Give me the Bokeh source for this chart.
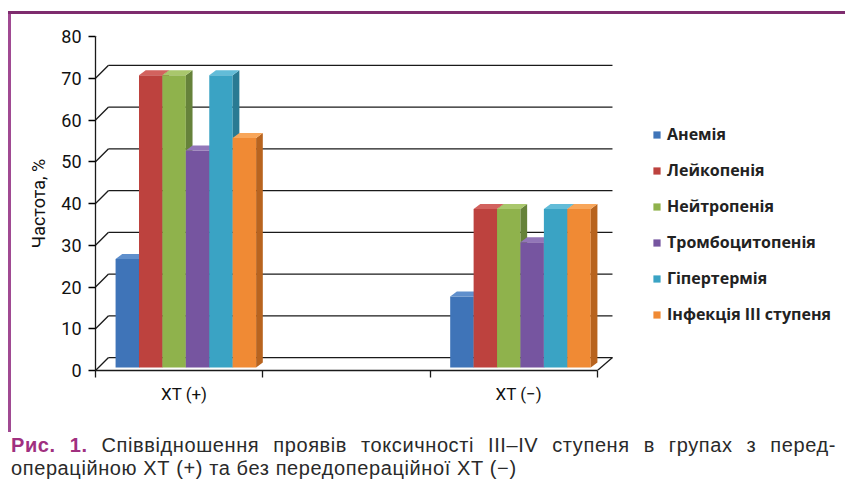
from bokeh.plotting import figure
from bokeh.layouts import column, row
from bokeh.models import (Range1d, FixedTicker, Legend, LegendItem, Div, ColumnDataSource)
from bokeh.embed import file_html
from bokeh.resources import INLINE

# ---- data ----
groups = ["ХТ (+)", "ХТ (−)"]
series = ["Анемія", "Лейкопенія", "Нейтропенія", "Тромбоцитопенія",
          "Гіпертермія", "Інфекція III ступеня"]
xt_plus = [26, 70, 70, 52, 70, 55]
xt_minus = [17, 38, 38, 30, 38, 38]
y_ticks = [0, 10, 20, 30, 40, 50, 60, 70, 80]
y_label = "Частота, %"
caption_head = "Рис. 1."
caption_line1 = "Співвідношення проявів токсичності III–IV ступеня в групах з перед-"
caption_line2 = "операційною ХТ (+) та без передопераційної ХТ (−)"

# ---- style ----
front = ["#3f74b8", "#bd423e", "#8fb24c", "#7655a0", "#3aa3c4", "#f08a34"]
side = ["#2c5488", "#8c2f2c", "#66823a", "#553c77", "#297a93", "#b8641f"]
topc = ["#5f8fcc", "#d2625e", "#a9c76c", "#9276b8", "#62bcd8", "#f8a65a"]

band_start = [0.0, 2.0]     # category bands (middle band empty)
bar_w = 0.14
bar_off = 0.12
base = 0.7                  # bars stand slightly behind the front axis
dx, dy = 0.04, 1.2          # pseudo-3D depth
gdx, gdy = 0.078, 3.1       # back-wall offset of gridlines
ink = "#1a1a1a"

p = figure(width=834, height=418, x_range=Range1d(0, 4.423), y_range=Range1d(0, 80),
           output_backend="svg", toolbar_location=None,
           min_border_left=84, min_border_right=10, min_border_top=22,
           min_border_bottom=62, background_fill_color="white",
           border_fill_color="white", outline_line_color=None)
p.xgrid.grid_line_color = None
p.ygrid.grid_line_color = None

# back-wall gridlines and diagonal connectors
grid_src = ColumnDataSource(dict(
    x0=[gdx] * (len(y_ticks) - 1), x1=[3.09] * (len(y_ticks) - 1),
    y=[t + gdy for t in y_ticks[:-1]]))
p.segment(x0="x0", y0="y", x1="x1", y1="y", source=grid_src, line_color=ink, line_width=1.3)
diag_src = ColumnDataSource(dict(
    x0=[0.0] * len(y_ticks), x1=[gdx] * len(y_ticks),
    y0=y_ticks, y1=[t + gdy for t in y_ticks]))
p.segment(x0="x0", y0="y0", x1="x1", y1="y1", source=diag_src, line_color=ink, line_width=1.3)
p.segment(x0=[3.0], y0=[0], x1=[3.09], y1=[gdy], line_color=ink, line_width=1.3)

# bars
renderers = []
for i, name in enumerate(series):
    vals = [xt_plus[i], xt_minus[i]]
    xc = [b + bar_off + bar_w / 2 + bar_w * i for b in band_start]
    r = p.vbar(x=xc, top=[v + base for v in vals], bottom=base, width=bar_w,
               fill_color=front[i], line_color=None)
    renderers.append(r)
    xs_top, ys_top, xs_side, ys_side = [], [], [], []
    for x, v in zip(xc, vals):
        xl, xr = x - bar_w / 2, x + bar_w / 2
        t = v + base
        xs_top.append([xl, xl + dx, xr + dx, xr]); ys_top.append([t, t + dy, t + dy, t])
        xs_side.append([xr, xr + dx, xr + dx, xr]); ys_side.append([base, base + dy, t + dy, t])
    p.patches(xs=xs_side, ys=ys_side, fill_color=side[i], line_color=None)
    p.patches(xs=xs_top, ys=ys_top, fill_color=topc[i], line_color=None)

# axes
yax = p.yaxis[0]
yax.ticker = FixedTicker(ticks=y_ticks)
yax.axis_label = y_label
yax.axis_label_text_font = "Roboto"
yax.axis_label_text_font_style = "normal"
yax.axis_label_text_font_size = "18px"
yax.axis_label_text_color = "#111111"
yax.axis_label_standoff = 9
yax.major_label_text_font = "Roboto"
yax.major_label_text_font_style = "normal"
yax.major_label_text_font_size = "18px"
yax.major_label_text_color = "#111111"
yax.major_tick_out = 7
yax.major_tick_in = 0
yax.minor_tick_out = 0
yax.minor_tick_in = 0
yax.major_label_standoff = 7
yax.axis_line_color = ink
yax.axis_line_width = 1.3
yax.major_tick_line_width = 1.3

xax = p.xaxis[0]
label_pos = [b + 0.53 for b in band_start]
xax.ticker = FixedTicker(ticks=label_pos, minor_ticks=[0, 1, 2, 3])
xax.major_label_overrides = {pos: g for pos, g in zip(label_pos, groups)}
xax.bounds = (0, 3)
xax.major_tick_out = 0
xax.major_tick_in = 0
xax.minor_tick_out = 7
xax.minor_tick_in = 0
xax.minor_tick_line_color = ink
xax.minor_tick_line_width = 1.3
xax.axis_line_color = ink
xax.axis_line_width = 1.3
xax.major_label_standoff = 6
xax.major_label_text_font = "Roboto"
xax.major_label_text_font_style = "normal"
xax.major_label_text_font_size = "17px"
xax.major_label_text_color = "#111111"

# legend
legend = Legend(items=[LegendItem(label=n, renderers=[r]) for n, r in zip(series, renderers)],
                location=(557, 45), glyph_width=9, glyph_height=9, label_height=20,
                spacing=14, padding=0, margin=0, label_standoff=6,
                label_text_font="Open Sans", label_text_font_style="bold",
                label_text_font_size="16px", label_text_color="#222222",
                border_line_color=None, background_fill_alpha=0)
p.add_layout(legend)

# frame border strips and caption
top_strip = Div(text="", width=837, height=3, margin=(11, 0, 0, 8),
                styles={"background-color": "#7e2c6e"})
left_strip = Div(text="", width=3, height=418, margin=(0, 0, 0, 8),
                 styles={"background-color": "#a04a92"})

cap_font = "'Liberation Sans', Arial, sans-serif"
cap_html = (
    f'<div style="font-family:{cap_font};font-size:20px;line-height:23px;color:#2a2a2a;'
    f'letter-spacing:0.6px;width:825px;padding-top:2px;">'
    f'<div style="text-align:justify;text-align-last:justify;white-space:nowrap;">'
    f'<span style="color:#a0307f;font-weight:bold;">{caption_head}</span> {caption_line1}</div>'
    f'<div>{caption_line2}</div></div>'
)
caption = Div(text=cap_html, width=834, height=58, margin=(0, 0, 0, 11))

layout = column(top_strip, row(left_strip, p), caption, spacing=0)

open("out.html", "w").write(file_html(layout, INLINE))
